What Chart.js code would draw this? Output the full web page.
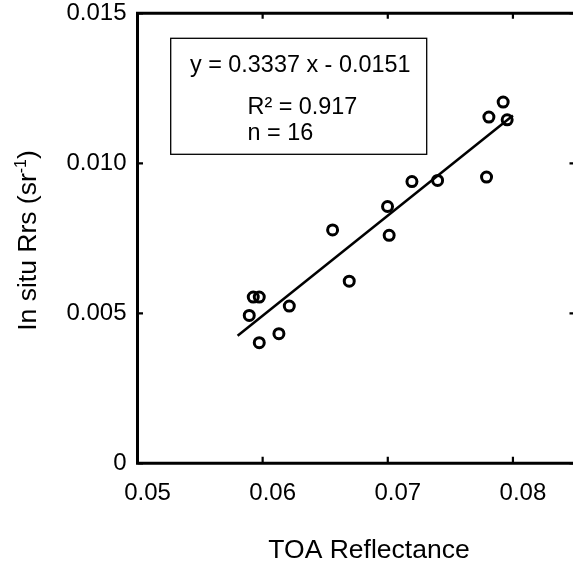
<!DOCTYPE html>
<html>
<head>
<meta charset="utf-8">
<script src="https://cdn.jsdelivr.net/npm/chart.js@4/dist/chart.umd.min.js"></script>
<style>
html,body{margin:0;padding:0;background:#fff;overflow:hidden;width:573px;height:563px;}
canvas{display:block;}
</style>
</head>
<body>
<canvas id="c" width="580" height="563"></canvas>
<script>
// ---- data ----
const toaReflectance = [0.05893, 0.05925, 0.05973, 0.05973, 0.0613, 0.06213, 0.06559, 0.06692, 0.06998, 0.07011, 0.07193, 0.07398, 0.07789, 0.07808, 0.07922, 0.07954];
const inSituRrs      = [0.00493, 0.00554, 0.00554, 0.00402, 0.00432, 0.00524, 0.00778, 0.00607, 0.00856, 0.00760, 0.00939, 0.00943, 0.00954, 0.01154, 0.01204, 0.01145];
const fitSlope = 0.3337;
const fitIntercept = -0.0151;
const fitRangeX = [0.058, 0.080];
const xTickValues = [0.05, 0.06, 0.07, 0.08];
const xTickLabels = ['0.05', '0.06', '0.07', '0.08'];
const yTickValues = [0, 0.005, 0.010, 0.015];
const yTickLabels = ['0', '0.005', '0.010', '0.015'];
const statsLines = ['y = 0.3337 x - 0.0151', 'R\u00B2 = 0.917', 'n = 16'];

const FONT = "'Liberation Sans', Arial, Helvetica, sans-serif";

const scatterData = toaReflectance.map((x, i) => ({x: x, y: inSituRrs[i]}));
const fitData = fitRangeX.map(x => ({x: x, y: fitSlope * x + fitIntercept}));

const framePlugin = {
  id: 'frame',
  afterDraw(chart) {
    const ctx = chart.ctx;
    const a = chart.chartArea;
    const xs = chart.scales.x, ys = chart.scales.y;
    ctx.save();
    ctx.strokeStyle = '#000';
    ctx.lineCap = 'square';
    // spines
    ctx.lineWidth = 3;
    ctx.beginPath();
    ctx.moveTo(a.left, a.top); ctx.lineTo(a.right, a.top);
    ctx.moveTo(a.left, a.top); ctx.lineTo(a.left, a.bottom);
    ctx.lineTo(a.right, a.bottom);
    ctx.stroke();
    // inward ticks
    ctx.lineWidth = 2.2;
    ctx.lineCap = 'butt';
    ctx.beginPath();
    xTickValues.forEach(v => {
      const px = xs.getPixelForValue(v);
      ctx.moveTo(px, a.bottom); ctx.lineTo(px, a.bottom - 6.5);
      ctx.moveTo(px, a.top); ctx.lineTo(px, a.top + 5.5);
    });
    yTickValues.forEach(v => {
      const py = ys.getPixelForValue(v);
      ctx.moveTo(a.left, py); ctx.lineTo(a.left + 5.5, py);
      ctx.moveTo(a.right, py); ctx.lineTo(a.right - 6, py);
    });
    ctx.stroke();

    // stats box
    const bx = a.left + 33.2, by = a.top + 25, bw = 256, bh = 116;
    ctx.lineWidth = 1.3;
    ctx.strokeRect(bx, by, bw, bh);
    ctx.fillStyle = '#000';
    ctx.font = '23.4px ' + FONT;
    ctx.textBaseline = 'middle';
    ctx.textAlign = 'left';
    ctx.fillText(statsLines[0], a.left + 52.5, a.top + 52);
    ctx.fillText(statsLines[1], a.left + 110, a.top + 94);
    ctx.fillText(statsLines[2], a.left + 110, a.top + 120);

    // x title
    ctx.font = '26.5px ' + FONT;
    ctx.textAlign = 'center';
    ctx.textBaseline = 'alphabetic';
    ctx.fillText('TOA Reflectance', 369, 557.5);

    // y title (rotated, with superscript)
    ctx.save();
    ctx.translate(36, 240.5);
    ctx.rotate(-Math.PI / 2);
    const main = 'In situ Rrs (sr';
    const sup = '-1';
    const close = ')';
    ctx.font = '26.5px ' + FONT;
    const wMain = ctx.measureText(main).width;
    const wClose = ctx.measureText(close).width;
    ctx.font = '16px ' + FONT;
    const wSup = ctx.measureText(sup).width;
    const total = wMain + wSup + wClose;
    let x0 = -total / 2;
    ctx.textAlign = 'left';
    ctx.textBaseline = 'alphabetic';
    ctx.font = '26.5px ' + FONT;
    ctx.fillText(main, x0, 0);
    ctx.font = '16px ' + FONT;
    ctx.fillText(sup, x0 + wMain, -10);
    ctx.font = '26.5px ' + FONT;
    ctx.fillText(close, x0 + wMain + wSup, 0);
    ctx.restore();

    ctx.restore();
  }
};

new Chart(document.getElementById('c'), {
  data: {
    datasets: [
      {
        type: 'scatter',
        data: scatterData,
        pointRadius: 5,
        pointHoverRadius: 5,
        borderWidth: 3,
        pointBorderWidth: 3,
        borderColor: '#000',
        backgroundColor: 'rgba(255,255,255,0)',
        order: 2
      },
      {
        type: 'line',
        data: fitData,
        borderColor: '#000',
        borderWidth: 2.5,
        pointRadius: 0,
        fill: false,
        order: 1
      }
    ]
  },
  options: {
    responsive: false,
    animation: false,
    devicePixelRatio: 1,
    events: [],
    layout: { autoPadding: false, padding: { left: 0, top: 13.3, right: 4.5, bottom: 0 } },
    plugins: { legend: { display: false }, tooltip: { enabled: false } },
    scales: {
      x: {
        type: 'linear',
        min: 0.05,
        max: 0.085,
        grid: { display: false, drawTicks: false },
        border: { display: false },
        afterBuildTicks(scale) { scale.ticks = xTickValues.map(v => ({ value: v })); },
        afterFit(scale) { scale.height = 99.7; scale.paddingLeft = 0; scale.paddingRight = 0; },
        ticks: {
          includeBounds: false,
          autoSkip: false,
          maxRotation: 0,
          padding: 16,
          labelOffset: 10,
          color: '#000',
          font: { family: FONT, size: 24 },
          callback: (v, i) => xTickLabels[i]
        }
      },
      y: {
        type: 'linear',
        min: 0,
        max: 0.015,
        grid: { display: false, drawTicks: false },
        border: { display: false },
        afterBuildTicks(scale) { scale.ticks = yTickValues.map(v => ({ value: v })); },
        afterFit(scale) { scale.width = 137.5; scale.paddingTop = 0; scale.paddingBottom = 0; },
        ticks: {
          autoSkip: false,
          padding: 11,
          color: '#000',
          font: { family: FONT, size: 24 },
          callback: (v, i) => yTickLabels[i]
        }
      }
    }
  },
  plugins: [framePlugin]
});
</script>
</body>
</html>
